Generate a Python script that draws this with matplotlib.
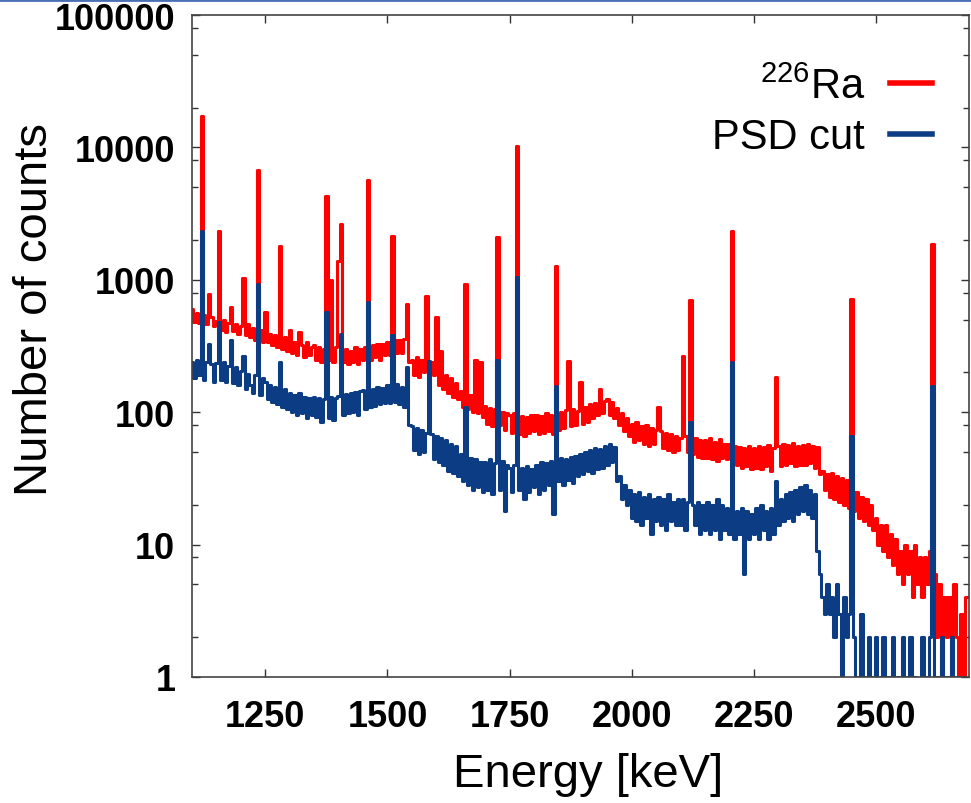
import numpy as np
import matplotlib
matplotlib.use("Agg")
import matplotlib.pyplot as plt
from matplotlib.lines import Line2D
from matplotlib.ticker import LogLocator, FixedLocator, NullFormatter

plt.rcParams['font.family'] = ['Liberation Sans', 'DejaVu Sans']
plt.rcParams['mathtext.default'] = 'regular'

# channel centres, 5 keV bins from 1100 to 2685 keV
energy = np.arange(1100, 2690, 5)

# 226Ra spectrum (counts per bin), one row = 50 keV
ra226 = [
    600, 480, 560, 470, 17300, 540, 460, 780, 520, 450,      # 1100
    490, 2340, 420, 500, 400, 470, 620, 410, 460, 390,       # 1150
    450, 1030, 380, 460, 370, 430, 350, 6800, 420, 340,      # 1200
    570, 340, 390, 320, 380, 310, 1810, 300, 370, 290,       # 1250
    420, 280, 340, 270, 400, 320, 260, 340, 270, 310,        # 1300
    320, 250, 310, 240, 300, 4300, 250, 1000, 240, 310,      # 1350
    1390, 2650, 240, 300, 230, 290, 240, 310, 230, 300,      # 1400
    250, 310, 5650, 250, 320, 260, 330, 250, 330, 270,       # 1450
    340, 270, 2150, 350, 280, 350, 280, 360, 660, 240,       # 1500
    250, 190, 260, 185, 250, 200, 750, 180, 240, 190,        # 1550
    525, 160, 290, 150, 190, 140, 180, 130, 165, 125,        # 1600
    145, 110, 935, 105, 135, 100, 250, 98, 240, 92,          # 1650
    112, 82, 108, 78, 105, 2100, 80, 100, 74, 98,            # 1700
    95, 70, 98, 10200, 68, 94, 66, 92, 70, 96,               # 1750
    72, 96, 68, 94, 70, 98, 72, 95, 68, 1270,                # 1800
    74, 100, 76, 104, 245, 78, 106, 80, 102, 170,            # 1850
    82, 110, 85, 115, 90, 118, 95, 150, 98, 122,             # 1900
    125, 96, 120, 90, 108, 80, 98, 72, 90, 66,               # 1950
    82, 60, 84, 62, 78, 58, 80, 56, 76, 58,                  # 2000
    74, 110, 72, 54, 70, 52, 68, 50, 66, 52,                 # 2050
    64, 265, 66, 50, 705, 48, 64, 46, 62, 45,                # 2100
    62, 45, 64, 44, 60, 43, 63, 45, 58, 44,                  # 2150
    58, 2340, 56, 40, 55, 38, 54, 39, 56, 37,                # 2200
    54, 38, 56, 37, 55, 39, 57, 36, 54, 185,                 # 2250
    56, 39, 58, 40, 57, 41, 59, 39, 56, 40,                  # 2300
    57, 40, 58, 41, 56, 38, 55, 34, 36, 26,                  # 2350
    34, 23, 35, 22, 33, 21, 32, 20, 31, 19,                  # 2400
    710, 18, 25, 16, 23, 15, 22, 14, 20, 13,                 # 2450
    16, 10, 14, 9, 14, 8, 12, 7, 11, 6,                      # 2500
    9, 5, 10, 6, 9, 4, 10, 5, 8, 4,                          # 2550
    8, 5, 9, 1850, 6, 2, 5, 1, 4, 2,                         # 2600
    4, 1, 5, 2, 0, 3, 1, 4,                                  # 2650
]

# after pulse shape discrimination cut
psd_cut = [
    240, 180, 250, 190, 2340, 175, 240, 330, 230, 170,       # 1100
    235, 480, 175, 240, 170, 225, 350, 165, 220, 160,        # 1150
    205, 265, 150, 195, 160, 140, 190, 935, 135, 180,        # 1200
    170, 125, 160, 120, 155, 115, 240, 110, 150, 105,        # 1250
    140, 100, 135, 95, 140, 98, 130, 90, 128, 96,            # 1300
    130, 92, 128, 85, 125, 570, 90, 130, 88, 128,            # 1350
    132, 390, 95, 138, 98, 140, 100, 142, 96, 145,           # 1400
    148, 105, 680, 110, 150, 112, 155, 115, 152, 118,        # 1450
    160, 118, 380, 120, 162, 115, 155, 110, 220, 80,         # 1500
    78, 52, 76, 48, 74, 50, 70, 245, 68, 44,                 # 1550
    66, 42, 64, 40, 62, 36, 58, 35, 56, 33,                  # 1600
    48, 30, 110, 28, 45, 26, 44, 27, 42, 25,                 # 1650
    42, 26, 44, 24, 41, 250, 26, 43, 18, 40,                 # 1700
    38, 25, 40, 1050, 26, 38, 22, 39, 25, 37,                # 1750
    27, 40, 24, 42, 26, 41, 28, 43, 17, 158,                 # 1800
    30, 45, 28, 44, 31, 46, 29, 47, 33, 48,                  # 1850
    34, 50, 36, 52, 35, 54, 37, 53, 38, 56,                  # 1900
    40, 58, 42, 55, 30, 33, 22, 28, 20, 26,                  # 1950
    16, 24, 15, 25, 14, 23, 16, 24, 12, 22,                  # 2000
    15, 23, 14, 22, 13, 24, 15, 21, 14, 22,                  # 2050
    14, 22, 13, 21, 84, 20, 14, 21, 12, 20,                  # 2100
    13, 21, 12, 20, 13, 22, 11, 20, 13, 19,                  # 2150
    12, 240, 11, 18, 12, 19, 6, 18, 11, 17,                  # 2200
    12, 19, 11, 20, 13, 18, 11, 19, 12, 30,                  # 2250
    14, 22, 15, 24, 16, 25, 15, 26, 17, 27,                  # 2300
    18, 28, 17, 26, 16, 24, 9, 6, 4, 3,                      # 2350
    5, 3, 4, 2, 5, 3, 0, 4, 2, 3,                            # 2400
    66, 2, 1, 0, 3, 1, 0, 2, 1, 0,                           # 2450
    2, 0, 1, 2, 0, 1, 0, 2, 0, 1,                            # 2500
    0, 2, 0, 1, 2, 0, 1, 0, 0, 2,                            # 2550
    0, 1, 2, 157, 0, 1, 0, 2, 0, 1,                          # 2600
    0, 2, 0, 1, 0, 0, 1, 0,                                  # 2650
]

xticks = [1250, 1500, 1750, 2000, 2250, 2500]
yticks = [1, 10, 100, 1000, 10000, 100000]
ytick_labels = ['1', '10', '100', '1000', '10000', '100000']

red = '#ff0000'
blue = '#0b3c84'

fig = plt.figure(figsize=(9.71, 8.04), dpi=100)
ax = fig.add_axes([192 / 971, 1 - 678 / 804, 777 / 971, 662 / 804])

ax.plot(energy, ra226, color=red, lw=2.2, drawstyle='steps-mid')
ax.plot(energy, psd_cut, color=blue, lw=2.2, drawstyle='steps-mid')

ax.set_yscale('log')
ax.set_xlim(1100, 2690)
ax.set_ylim(1, 100000)

ax.xaxis.set_major_locator(FixedLocator(xticks))
ax.set_xticklabels([str(t) for t in xticks])
ax.yaxis.set_major_locator(FixedLocator(yticks))
ax.set_yticklabels(ytick_labels)
ax.yaxis.set_minor_locator(LogLocator(base=10, subs=[2, 5, 8]))
ax.yaxis.set_minor_formatter(NullFormatter())

ax.tick_params(which='both', direction='in', top=True, right=True, color='#333333')
ax.tick_params(which='major', length=6, width=1)
ax.tick_params(which='minor', length=4, width=1)
ax.tick_params(axis='x', labelsize=26, pad=16)
ax.tick_params(axis='y', labelsize=26, pad=12)
for lab in ax.get_xticklabels() + ax.get_yticklabels():
    lab.set_fontweight('bold')
for s in ax.spines.values():
    s.set_color('#444444')
    s.set_linewidth(1.2)

ax.set_xlabel('Energy [keV]', fontsize=34, va='center')
ax.xaxis.set_label_coords(0.51, -0.147)
ax.set_ylabel('Number of counts', fontsize=34, va='center')
ax.yaxis.set_label_coords(-0.202, 0.556)

handles = [Line2D([], [], color=red, lw=4), Line2D([], [], color=blue, lw=4)]
ax.legend(handles, ['$^{226}$Ra', 'PSD cut'], loc='upper right',
          bbox_to_anchor=(0.952, 0.922), frameon=False, markerfirst=False,
          fontsize=30, handlelength=1.0, handletextpad=0.6,
          labelspacing=0.25, borderpad=0, borderaxespad=0)

# thin slide border line at the very top
fig.add_artist(Line2D([0, 1], [0.9985, 0.9985], color='#4a6fb5', lw=2))

fig.savefig('out.png', dpi=100)
